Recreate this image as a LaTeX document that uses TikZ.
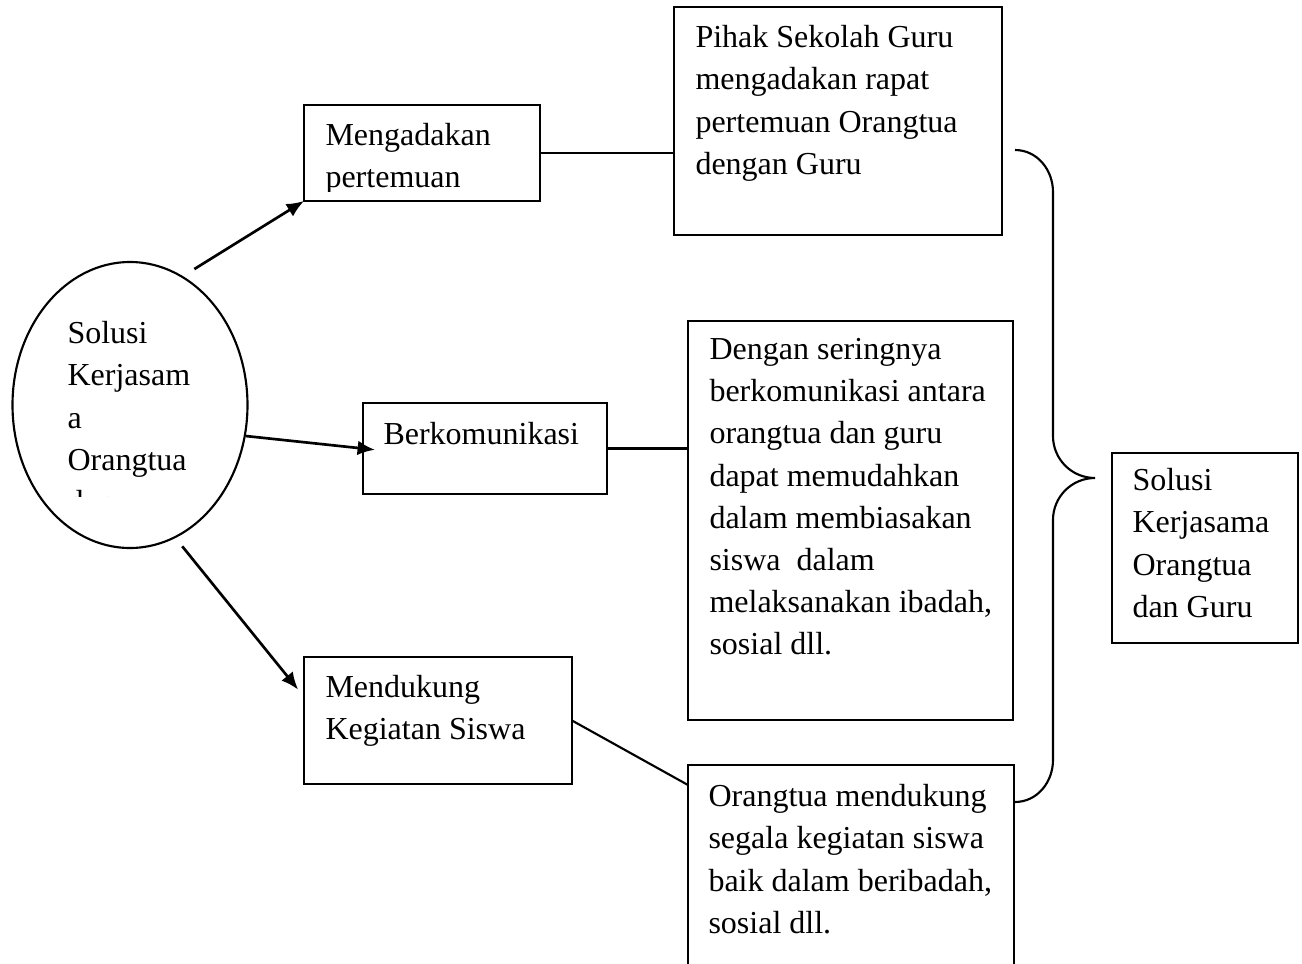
\documentclass[tikz,border=0pt]{standalone}
\usepackage{fontspec}
\setmainfont{Liberation Serif}
\usepackage{tikz}
\usetikzlibrary{shapes.geometric, arrows.meta, positioning}
\newcommand{\px}{0.375pt}

\begin{document}
\begin{tikzpicture}[x=0.375pt, y=-0.375pt,
        kotak/.style={draw, line width=0.8pt, anchor=north west, inner sep=0pt, outer sep=0pt},
        teks/.style={anchor=north west, inner sep=0pt, align=left, font=\fontsize{12}{15.8}\selectfont},
        panah/.style={line width=1pt, -{Latex[length=6.5pt, width=5.5pt]}},
        garis/.style={line width=0.8pt}
    ]
    \path[use as bounding box, clip] (0,0) rectangle (1302,964);

    \node[ellipse, draw, line width=0.8pt, minimum width=235*\px, minimum height=286*\px, inner sep=0pt] (solusi) at (130,405) {};
    \begin{scope}
        \clip (60,300) rectangle (240,496);
        \node[teks] (solusi-teks) at (67,321) {Solusi\\Kerjasam\\a\\Orangtua\\dan};
    \end{scope}

    \node[kotak, minimum width=236*\px, minimum height=96*\px] (pertemuan) at (304,105) {};
    \begin{scope}
        \clip (304,105) rectangle (540,191);
        \node[teks] (pertemuan-teks) at (325,123) {Mengadakan\\pertemuan};
    \end{scope}

    \node[kotak, minimum width=328*\px, minimum height=228*\px] (rapat) at (674,7) {};
    \node[teks] (rapat-teks) at (695,25) {Pihak Sekolah Guru\\mengadakan rapat\\pertemuan Orangtua\\dengan Guru};

    \node[kotak, minimum width=244*\px, minimum height=91*\px] (komunikasi) at (363,403) {};
    \node[teks] (komunikasi-teks) at (383,422) {Berkomunikasi};

    \node[kotak, minimum width=325*\px, minimum height=399*\px] (seringnya) at (688,321) {};
    \node[teks] (seringnya-teks) at (709,338) {Dengan seringnya\\berkomunikasi antara\\orangtua dan guru\\dapat memudahkan\\dalam membiasakan\\siswa\ \ dalam\\melaksanakan ibadah,\\sosial dll.};

    \node[kotak, minimum width=268*\px, minimum height=127*\px] (mendukung) at (304,657) {};
    \node[teks] (mendukung-teks) at (325,675) {Mendukung\\Kegiatan Siswa};

    \node[kotak, minimum width=326*\px, minimum height=240*\px] (kegiatan) at (688,765) {};
    \node[teks] (kegiatan-teks) at (708,784) {Orangtua mendukung\\segala kegiatan siswa\\baik dalam beribadah,\\sosial dll.};

    \node[kotak, minimum width=186*\px, minimum height=190*\px] (hasil) at (1112,453) {};
    \node[teks] (hasil-teks) at (1132,468) {Solusi\\Kerjasama\\Orangtua\\dan Guru};

    \draw[panah] ([yshift=5.6pt]solusi.62) -- (pertemuan.south west);
    \draw[panah, shorten >=-4.5pt] (solusi.-15) -- (komunikasi.west);
    \draw[panah, shorten >=3.5pt] ([yshift=-4.5pt]solusi.-68) -- (mendukung.170);

    \coordinate (kegiatan-masuk) at ([yshift=-7.5pt]kegiatan.north west);
    \draw[garis] (pertemuan.east) -- (pertemuan.east -| rapat.west);
    \draw[garis] (komunikasi.east) -- (komunikasi.east -| seringnya.west);
    \draw[garis] (mendukung.east) -- (kegiatan-masuk);

    \coordinate (kurung-atas) at (1015,150);
    \coordinate (kurung-ujung) at (1095,478);
    \coordinate (kurung-bawah) at (1015,802);
    \draw[garis] (kurung-atas) to[out=0,in=90] (1053,192) -- (1053,436) to[out=-90,in=180] (kurung-ujung)
        to[out=180,in=90] (1053,520) -- (1053,760) to[out=-90,in=0] (kurung-bawah);
\end{tikzpicture}
\end{document}
